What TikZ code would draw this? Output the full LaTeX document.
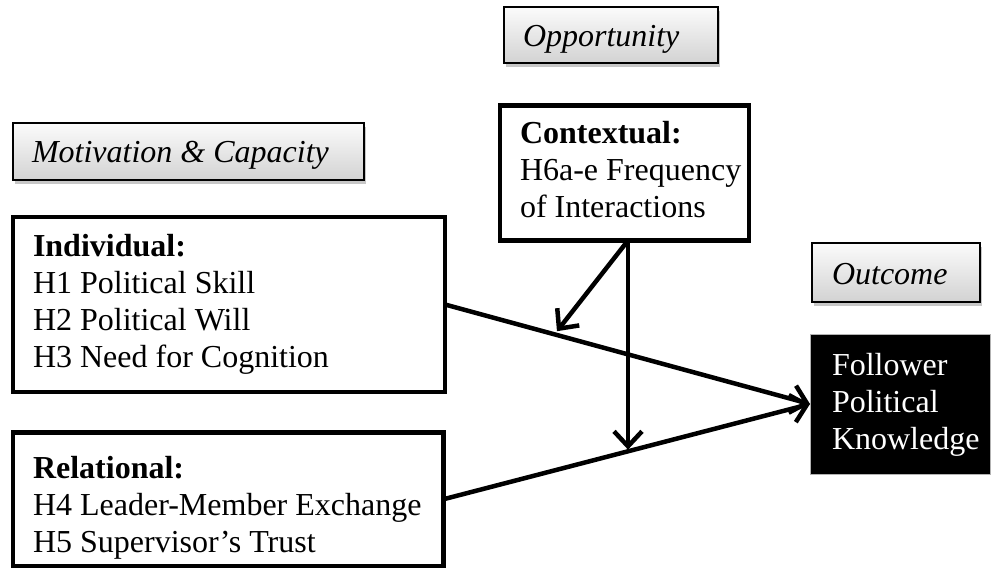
\documentclass[tikz,border=0pt]{standalone}
\usepackage{fontspec}
\setmainfont{Liberation Serif}
\usetikzlibrary{arrows.meta,shadows,calc}
\begin{document}
\begin{tikzpicture}[x=1pt,y=-1pt,
  every node/.style={inner sep=0pt, outer sep=0pt},
  bigbox/.style={draw=black, line width=4.5pt, fill=white, anchor=north west},
  lblbox/.style={draw=black, line width=2pt, top color=gray!3, bottom color=gray!35,
    anchor=north west,
    drop shadow={shadow xshift=2pt, shadow yshift=-4pt, fill=black, opacity=0.22}},
  txt/.style={font=\fontsize{32}{37}\selectfont, align=left, anchor=north west},
  lbl/.style={font=\fontsize{32}{37}\selectfont\itshape, anchor=base west},
  conn/.style={line width=4.5pt},
  arr/.style={conn, -{Straight Barb[length=15pt,width=28pt]}}
]
\useasboundingbox (0,0) rectangle (992,569);

% label boxes
\node[lblbox, minimum width=214pt, minimum height=56.5pt] (opp) at (504,7) {};
\node[lbl] (oppt) at (523,47) {Opportunity};
\node[lblbox, minimum width=351pt, minimum height=57.5pt] (mot) at (13,123) {};
\node[lbl] (mott) at (32,163) {Motivation \& Capacity};
\node[lblbox, minimum width=167.5pt, minimum height=58.5pt] (out) at (812,243) {};
\node[lbl] (outt) at (832,284) {Outcome};

% main boxes
\node[bigbox, minimum width=249pt, minimum height=135pt] (ctx) at (500,105.5) {};
\node[txt] (ctxt) at (520,121) {\textbf{Contextual:}\\H6a-e Frequency\\of Interactions};

\node[bigbox, minimum width=432pt, minimum height=175pt] (ind) at (13,217) {};
\node[txt] (indt) at (33,234) {\textbf{Individual:}\\H1 Political Skill\\H2 Political Will\\H3 Need for Cognition};

\node[bigbox, minimum width=430.5pt, minimum height=133.5pt] (rel) at (13,432.5) {};
\node[txt] (relt) at (33,456) {\textbf{Relational:}\\H4 Leader-Member Exchange\\H5 Supervisor’s Trust};

\node[draw=gray!60, line width=1pt, fill=black, anchor=north west,
      minimum width=180pt, minimum height=140pt] (fol) at (810,334) {};
\node[txt, text=white] (folt) at (832,353) {Follower\\Political\\Knowledge};

% connectors
\draw[arr] (ind.east) -- (fol.west);
\draw[arr] (rel.east) -- (fol.west);
\coordinate (c0) at ([xshift=3.5pt]ctx.south);
\coordinate (m1) at ($(ind.east)!0.3!(fol.west)$);
\coordinate (m2) at ($(rel.east)!0.5!(fol.west)$);
\draw[arr, shorten >=4pt] (c0) -- (m1);
\draw[arr, shorten >=2pt] (c0) -- (c0 |- m2);
\end{tikzpicture}
\end{document}
